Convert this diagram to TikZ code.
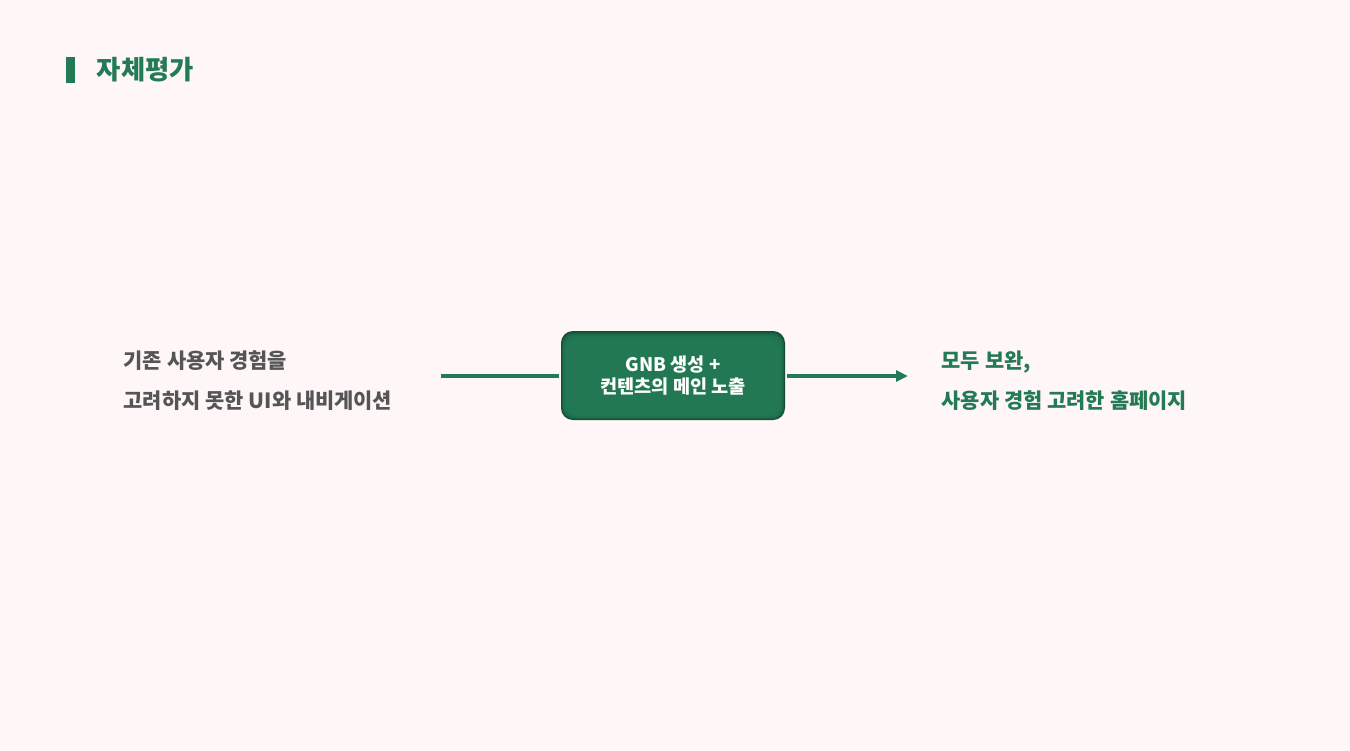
\documentclass[tikz,border=0pt]{standalone}
\usepackage{fontspec}
\setmainfont{Noto Sans CJK KR}
\usepackage{tikz}
\usetikzlibrary{arrows.meta}
\definecolor{bgpink}{HTML}{FFF7F7}
\definecolor{leafgreen}{HTML}{237B55}
\definecolor{darkleaf}{HTML}{134D34}
\definecolor{greytext}{HTML}{555555}

\begin{document}
\begin{tikzpicture}[x=0.02cm, y=-0.02cm, line width=2pt, color=leafgreen,
      every node/.append style={inner sep=0pt, font=\bfseries}]
    \tikzstyle{sidetext} = [anchor=west, align=left, font=\bfseries\fontsize{11.9}{22.7}\selectfont]
    \tikzstyle{keybox} = [rounded corners=6.8pt]
    \fill[bgpink] (0,0) rectangle (1350,751);
    \useasboundingbox (0,0) rectangle (1350,751);
    \node (bar) [fill=leafgreen, minimum width=0.18cm, minimum height=0.52cm] at (70.5,70) {};
    \node (title) [anchor=west, font=\bfseries\fontsize{15}{17}\selectfont] at (95,70) {자체평가};
    \node (before) [sidetext, text=greytext] at (122,381) {기존 사용자 경험을\\고려하지 못한 UI와 내비게이션};
    \node (after) [sidetext, text=leafgreen] at (940,381) {모두 보완,\\사용자 경험 고려한 홈페이지};
    % box with a soft inner shadow
    \fill[keybox, darkleaf] (561,331) rectangle (785,420);
    \foreach \i in {1,...,6}
      \fill[keybox, leafgreen, opacity=0.4] (561+0.8*\i,331+1.3*\i) rectangle (785-0.8*\i,420-0.8*\i);
    \node (gnb) [minimum width=4.48cm, minimum height=1.78cm, align=center, text=white,
      font=\bfseries\fontsize{10.6}{13}\selectfont] at (673,375.5) {GNB 생성 +\\컨텐츠의 메인 노출};
    \coordinate (start) at (441,376);
    \coordinate (finish) at (908,376);
    \draw (start) -- (gnb.west |- start);
    \draw[-{Triangle[length=6.8pt,width=6.2pt]}] (gnb.east |- start) -- (finish);
\end{tikzpicture}
\end{document}
